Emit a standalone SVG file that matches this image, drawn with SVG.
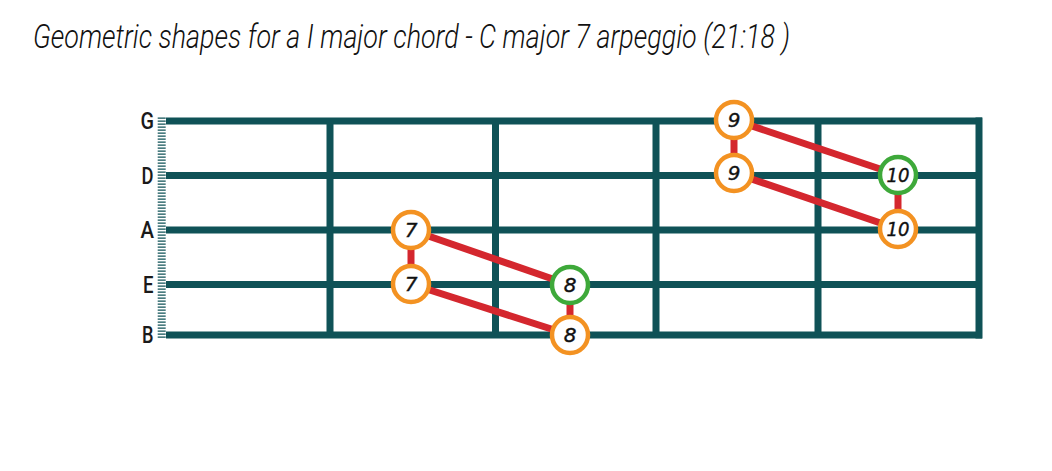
<svg xmlns="http://www.w3.org/2000/svg" width="1052" height="471" viewBox="0 0 1052 471">
<style>
.str{stroke:#0f5257;stroke-width:7;fill:none}
.fret{stroke:#0f5257;stroke-width:7;fill:none}
.seg{stroke:#d4272e;stroke-width:7;fill:none}
.nO{fill:#fff;stroke:#f39222;stroke-width:4.5}
.nG{fill:#fff;stroke:#3ea93a;stroke-width:4.5}
</style>
<rect width="1052" height="471" fill="#fff"/>
<text x="33" y="48" font-family="Roboto, 'Liberation Sans', sans-serif" font-style="italic" font-weight="300" font-size="34" fill="#111" textLength="757" lengthAdjust="spacingAndGlyphs">Geometric shapes for a I major chord - C major 7 arpeggio (21:18 )</text>
<g id="fretboard">
<line x1="161.7" y1="117.5" x2="161.7" y2="339" stroke="#0f5257" stroke-width="8" stroke-dasharray="1.2 1.8"/>
<line class="str" x1="166" y1="121" x2="982" y2="121"/>
<line class="str" x1="166" y1="175.5" x2="979" y2="175.5"/>
<line class="str" x1="166" y1="230" x2="979" y2="230"/>
<line class="str" x1="166" y1="284.5" x2="979" y2="284.5"/>
<line class="str" x1="166" y1="335" x2="982" y2="335"/>
<line class="fret" x1="330" y1="121" x2="330" y2="335"/>
<line class="fret" x1="495.5" y1="121" x2="495.5" y2="335"/>
<line class="fret" x1="656" y1="121" x2="656" y2="335"/>
<line class="fret" x1="818" y1="121" x2="818" y2="335"/>
<line class="fret" x1="979" y1="117.5" x2="979" y2="338.5"/>
<g font-family="Roboto, 'Liberation Sans', sans-serif" font-weight="500" font-size="23" fill="#1a1a1a">
<text x="140.5" y="129" textLength="13.5" lengthAdjust="spacingAndGlyphs">G</text>
<text x="141.5" y="183.5" textLength="12" lengthAdjust="spacingAndGlyphs">D</text>
<text x="140.5" y="238" textLength="13.5" lengthAdjust="spacingAndGlyphs">A</text>
<text x="143" y="292.5" textLength="10.5" lengthAdjust="spacingAndGlyphs">E</text>
<text x="142" y="343" textLength="11.5" lengthAdjust="spacingAndGlyphs">B</text>
</g>
</g>
<g id="connectors">
<line class="seg" x1="411" y1="230" x2="570" y2="285"/>
<line class="seg" x1="411" y1="284" x2="570" y2="335"/>
<line class="seg" x1="411" y1="230" x2="411" y2="284"/>
<line class="seg" x1="570" y1="285" x2="570" y2="335"/>
<line class="seg" x1="734" y1="120" x2="898" y2="175"/>
<line class="seg" x1="734" y1="173" x2="898" y2="229"/>
<line class="seg" x1="734" y1="120" x2="734" y2="173"/>
<line class="seg" x1="898" y1="175" x2="898" y2="229"/>
</g>
<g font-family="'DejaVu Sans', 'Liberation Sans', sans-serif" font-style="italic" font-size="20" fill="#111" text-anchor="middle" stroke="#111" stroke-width="0.4">
<g id="n7a"><circle class="nO" cx="411" cy="230" r="18"/><text x="411" y="237">7</text></g>
<g id="n7b"><circle class="nO" cx="411" cy="284" r="18"/><text x="411" y="291">7</text></g>
<g id="n8a"><circle class="nG" cx="570" cy="285" r="18"/><text x="570" y="292">8</text></g>
<g id="n8b"><circle class="nO" cx="570" cy="335" r="18"/><text x="570" y="342">8</text></g>
<g id="n9a"><circle class="nO" cx="734" cy="120" r="18"/><text x="734" y="127">9</text></g>
<g id="n9b"><circle class="nO" cx="734" cy="173" r="18"/><text x="734" y="180">9</text></g>
<g id="n10a"><circle class="nG" cx="898" cy="175" r="18"/><text x="898" y="182" textLength="23" lengthAdjust="spacingAndGlyphs">10</text></g>
<g id="n10b"><circle class="nO" cx="898" cy="229" r="18"/><text x="898" y="236" textLength="23" lengthAdjust="spacingAndGlyphs">10</text></g>
</g>
</svg>
